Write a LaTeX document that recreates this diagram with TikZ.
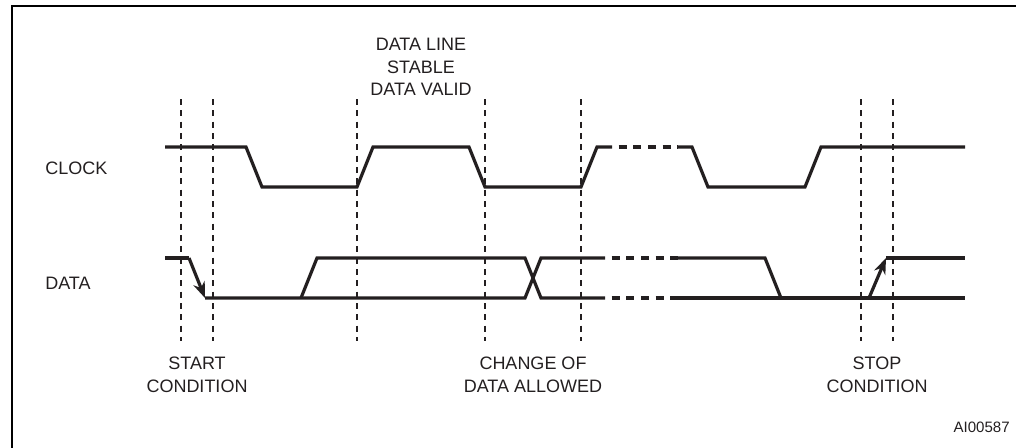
\documentclass[tikz,border=0pt]{standalone}
\usepackage{fontspec}
\setmainfont{Liberation Sans}
\usepackage{tikz}
\usetikzlibrary{arrows.meta}
\definecolor{ink}{HTML}{231F20}

\begin{document}
\begin{tikzpicture}[x=0.75pt,y=-0.75pt]
		\tikzstyle{sig} = [line width=2.4pt, draw=ink]
		\tikzstyle{guide} = [line width=0.8pt, draw=ink, dash pattern=on 4.5pt off 4pt]
		\tikzstyle{gap} = [dash pattern=on 6pt off 5pt, dash phase=6pt]
		\tikzstyle{tip} = [-{Stealth[length=12pt,width=9pt]}]
		\tikzstyle{lbl} = [inner sep=0, text=ink, align=center,
		font=\fontsize{13.5}{16.9}\selectfont]
		
		\useasboundingbox (0,0) rectangle (1016,447);
		\draw [line width=2pt] (12,448) -- (12,6) -- (1017,6);
		
		% guide lines
		\draw [guide] (181,99) -- (181,341);
		\draw [guide] (213,99) -- (213,341);
		\draw [guide] (357,99) -- (357,341);
		\draw [guide] (485,99) -- (485,341);
		\draw [guide] (581,99) -- (581,341);
		\draw [guide] (861,99) -- (861,341);
		\draw [guide] (893,99) -- (893,341);
		
		% clock
		\draw [sig] (165,147) -- (246,147) -- (262,187) -- (357,187) -- (373,147) -- (469,147)
		-- (485,187) -- (581,187) -- (597,147) -- (612,147);
		\draw [sig,gap] (612,147) -- (678,147);
		\draw [sig] (678,147) -- (692,147) -- (708,187) -- (805,187) -- (821,147) -- (965,147);
		
		% data
		\draw [sig] (165,258) -- (189,258);
		\draw [sig,tip] (189,258) -- (205,298);
		\draw [sig] (205,298) -- (525,298) -- (541,258) -- (605,258);
		\draw [sig] (301,298) -- (317,258) -- (525,258) -- (541,298) -- (605,298);
		\draw [sig,gap] (605,258) -- (678,258);
		\draw [sig,gap] (605,298) -- (678,298);
		\draw [sig] (678,258) -- (765,258) -- (781,298);
		\draw [sig] (678,298) -- (965,298);
		\draw [sig,tip] (869,298) -- (886,258);
		\draw [sig] (886,258) -- (965,258);
		
		\node [lbl,anchor=west] (clk) at (45,168) {CLOCK};
		\node [lbl,anchor=west] (dat) at (45,283) {DATA};
		\node [lbl] (stable) at (421,67) {DATA LINE\\STABLE\\DATA VALID};
		\node [lbl] (start) at (197,375) {START\\CONDITION};
		\node [lbl] (change) at (533,375) {CHANGE OF\\DATA ALLOWED};
		\node [lbl] (stop) at (877,375) {STOP\\CONDITION};
		\node [lbl,anchor=east,font=\fontsize{11.3}{13}\selectfont] (code) at (1010,427) {AI00587};
\end{tikzpicture}
\end{document}
